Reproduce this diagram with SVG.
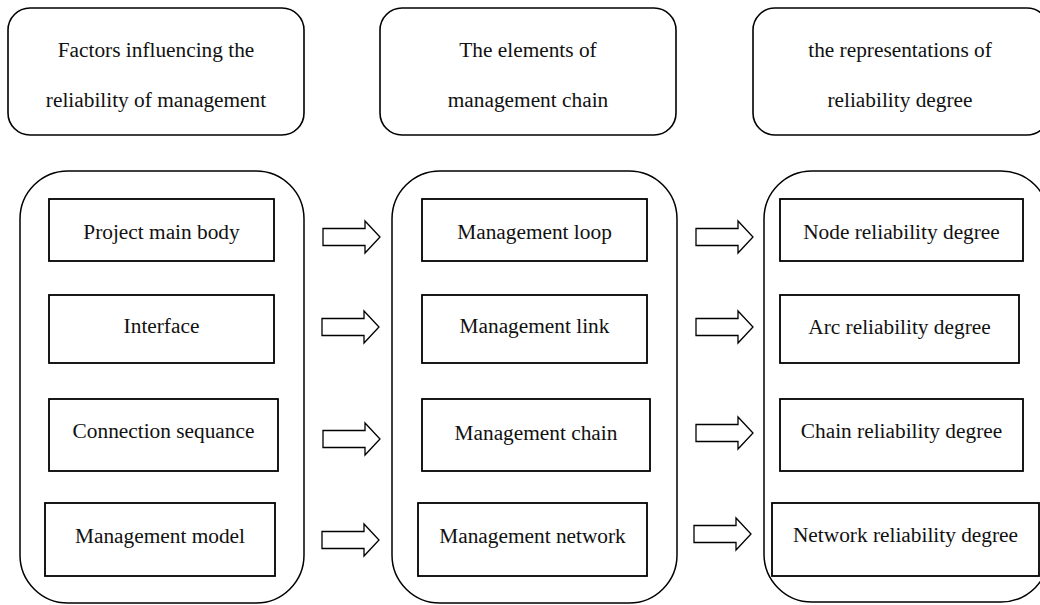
<svg xmlns="http://www.w3.org/2000/svg" xmlns:xlink="http://www.w3.org/1999/xlink" width="1040" height="605" viewBox="0 0 1040 605">
<style>
.hdr{fill:#fff;stroke:#000;stroke-width:1.6}
.cont{fill:#fff;stroke:#000;stroke-width:1.5}
.box{fill:#fff;stroke:#000;stroke-width:1.8}
.arr{fill:#fff;stroke:#000;stroke-width:1.3;stroke-linejoin:miter}
text{font-family:"Liberation Serif","Times New Roman",serif;font-size:21.33px;fill:#111;text-anchor:middle}
</style>
<defs>
<polygon id="fat" class="arr" points="0,-8.5 42,-8.5 42,-16 57,0 42,16 42,8.5 0,8.5"/>
</defs>
<rect width="1040" height="605" fill="#fff"/>
<g id="hdr1"><rect class="hdr" x="8" y="8" width="296" height="127" rx="22"/><text x="156" y="57">Factors influencing the</text><text x="156" y="107">reliability of management</text></g>
<g id="hdr2"><rect class="hdr" x="380" y="8" width="296" height="127" rx="22"/><text x="528" y="57">The elements of</text><text x="528" y="107">management chain</text></g>
<g id="hdr3"><rect class="hdr" x="753" y="8" width="296" height="127" rx="22"/><text x="900" y="57">the representations of</text><text x="900" y="107">reliability degree</text></g>
<g id="col1"><rect class="cont" x="20" y="171" width="284" height="432" rx="48"/></g>
<g id="col2"><rect class="cont" x="392" y="171" width="285" height="432" rx="48"/></g>
<g id="col3"><rect class="cont" x="764" y="171" width="285" height="431" rx="48"/></g>
<g id="n-project"><rect class="box" x="49" y="199" width="225" height="62"/><text x="161.5" y="239">Project main body</text></g>
<g id="n-interface"><rect class="box" x="49" y="295" width="225" height="68"/><text x="161.5" y="333">Interface</text></g>
<g id="n-connection"><rect class="box" x="49" y="399" width="229" height="72"/><text x="163.5" y="438">Connection sequance</text></g>
<g id="n-model"><rect class="box" x="45" y="503" width="230" height="73"/><text x="160" y="543">Management model</text></g>
<g id="n-loop"><rect class="box" x="422" y="199" width="225" height="62"/><text x="534.5" y="239">Management loop</text></g>
<g id="n-link"><rect class="box" x="422" y="295" width="225" height="68"/><text x="534.5" y="333">Management link</text></g>
<g id="n-chain"><rect class="box" x="422" y="399" width="228" height="72"/><text x="536" y="440">Management chain</text></g>
<g id="n-network"><rect class="box" x="418" y="503" width="229" height="73"/><text x="532.5" y="543">Management network</text></g>
<g id="n-node"><rect class="box" x="780" y="199" width="243" height="62"/><text x="901.5" y="239">Node reliability degree</text></g>
<g id="n-arc"><rect class="box" x="780" y="295" width="239" height="68"/><text x="899.5" y="334">Arc reliability degree</text></g>
<g id="n-chainrel"><rect class="box" x="780" y="399" width="243" height="72"/><text x="901.5" y="438">Chain reliability degree</text></g>
<g id="n-netrel"><rect class="box" x="772" y="503" width="267" height="73"/><text x="905.5" y="542">Network reliability degree</text></g>
<g id="connectors">
<use xlink:href="#fat" x="323" y="237"/>
<use xlink:href="#fat" x="322" y="327"/>
<use xlink:href="#fat" x="323" y="439"/>
<use xlink:href="#fat" x="322" y="540"/>
<use xlink:href="#fat" x="696" y="237"/>
<use xlink:href="#fat" x="696" y="327"/>
<use xlink:href="#fat" x="696" y="433"/>
<use xlink:href="#fat" x="694" y="534"/>
</g>
</svg>
